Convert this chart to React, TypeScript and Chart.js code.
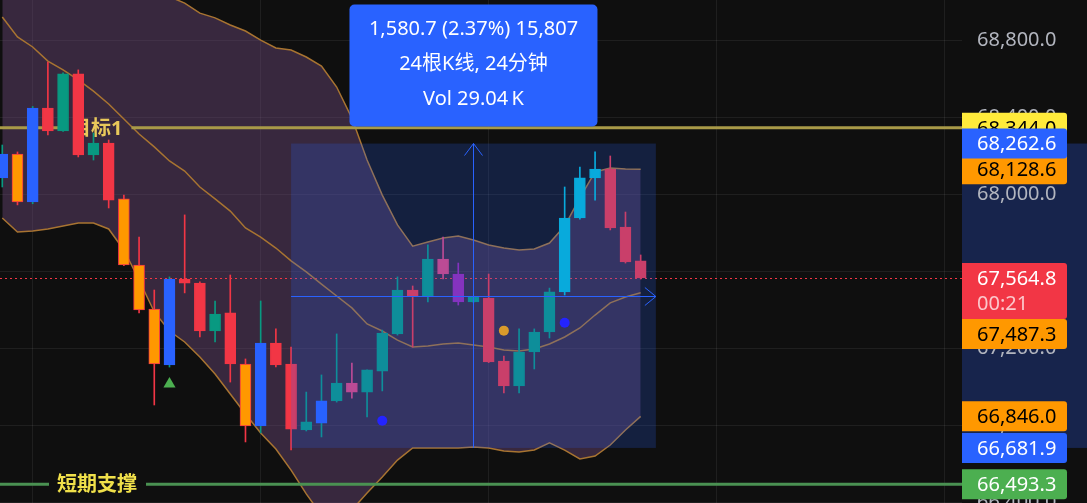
import { useEffect, useRef } from 'react';
import { Chart, registerables } from 'chart.js';

Chart.register(...registerables);

// ---- Candles (one per minute) ----
const opens = [68084, 68208, 67959, 68447, 68328, 68624, 68203, 68265, 67975, 67632, 67403, 67113, 67559, 67538, 67289, 67383, 67118, 66796, 67227, 67118, 66775, 66811, 66926, 67019, 66972, 67081, 67274, 67502, 67471, 67663, 67585, 67440, 67460, 67133, 67004, 67180, 67284, 67492, 67876, 68084, 68130, 67829, 67653];
const closes = [68208, 67959, 68447, 68328, 68624, 68203, 68265, 67969, 67632, 67398, 67118, 67559, 67538, 67289, 67377, 67118, 66796, 67227, 67113, 66780, 66817, 66926, 67019, 66972, 67087, 67279, 67502, 67471, 67663, 67585, 67440, 67466, 67128, 67004, 67180, 67284, 67492, 67876, 68084, 68130, 67824, 67648, 67564.8];
const highs = [68255, 68219, 68455, 68686, 68630, 68645, 68317, 68281, 67995, 67777, 67502, 67570, 67892, 67544, 67445, 67580, 67144, 67445, 67300, 67206, 66972, 67061, 67274, 67123, 67087, 67294, 67570, 67523, 67736, 67777, 67642, 67470, 67585, 67159, 67300, 67300, 67512, 68037, 68141, 68219, 68198, 67907, 67684];
const lows = [68037, 67944, 67950, 68307, 68325, 68193, 68177, 67928, 67628, 67383, 66905, 67102, 67487, 67258, 67232, 67024, 66713, 66760, 67102, 66671, 66770, 66739, 66920, 66941, 66843, 66978, 67268, 67206, 67440, 67559, 67424, 67436, 67125, 66967, 66967, 67092, 67253, 67476, 67870, 67969, 67814, 67642, 67559];
const candleKinds = ['blue', 'orange', 'blue', 'red', 'green', 'red', 'green', 'red', 'orange', 'orange', 'orange', 'blue', 'red', 'red', 'green', 'red', 'orange', 'blue', 'red', 'red', 'green', 'blue', 'green', 'pink', 'green', 'green', 'green', 'red', 'green', 'pink', 'purple', 'green', 'red', 'red', 'green', 'green', 'green', 'cyan', 'cyan', 'cyan', 'red', 'red', 'red'];

// ---- Bollinger bands ----
const bbUpper = [69964, 69828, 69719, 69564, 69455, 69335, 69221, 69117, 69075, 69065, 69050, 69025, 68992, 68940, 68915, 68878, 68847, 68800, 68759, 68748, 68712, 68665, 68556, 68395, 68177, 67995, 67840, 67730, 67751, 67772, 67782, 67762, 67736, 67720, 67710, 67715, 67746, 67834, 67980, 68115, 68136, 68130, 68128.6];
const bbMiddle = [68920, 68816, 68764, 68691, 68645, 68593, 68535, 68468, 68390, 68312, 68245, 68172, 68120, 68037, 67975, 67912, 67824, 67777, 67720, 67653, 67596, 67533, 67471, 67409, 67326, 67289, 67242, 67206, 67211, 67222, 67227, 67216, 67206, 67190, 67185, 67196, 67222, 67258, 67305, 67372, 67435, 67466, 67487.3];
const bbLower = [67876, 67803, 67808, 67819, 67834, 67850, 67850, 67819, 67710, 67554, 67388, 67289, 67232, 67154, 67066, 66962, 66858, 66760, 66676, 66567, 66443, 66334, 66282, 66360, 66448, 66531, 66619, 66682, 66682, 66682, 66682, 66687, 66682, 66666, 66661, 66671, 66708, 66671, 66625, 66640, 66697, 66775, 66846];

// ---- Signal markers ----
const triangleIndex = [11];
const trianglePrice = [67014];
const blueDotIndex = [25, 37];
const blueDotPrice = [66823, 67332];
const orangeDotIndex = [33];
const orangeDotPrice = [67291];

// ---- Levels, axis ----
const targetLevel = 68344.0;
const targetLabel = '目标1';
const supportLevel = 66493.3;
const supportLabel = '短期支撑';
const lastPrice = 67564.8;
const countdown = '00:21';
const priceTicks = [66400, 66800, 67200, 67600, 68000, 68400, 68800];
const timeGridIndex = [2, 17, 32, 47, 62];

// ---- Price range measurement ----
const rangeStartIndex = 19;
const rangeEndIndex = 43;
const rangeTop = 68262.6;
const rangeBottom = 66681.9;
const rangeVolumeK = '29.04';

const BODY: Record<string, string> = {
  blue: '#2962ff', orange: '#ff9800', red: '#f23645', green: '#089981',
  cyan: '#00bcd4', pink: '#e0457b', purple: '#9c27b0',
};
const FONT = '"Noto Sans", "Noto Sans CJK SC", sans-serif';
const fmt = (v: number) => v.toLocaleString('en-US', { minimumFractionDigits: 1, maximumFractionDigits: 1 });

function drawLevel(chart: any, value: number, color: string, text: string, textColor: string, textLeft: number) {
  const { ctx, chartArea } = chart;
  const yy = chart.scales.y.getPixelForValue(value);
  ctx.save();
  ctx.font = `bold 20px ${FONT}`;
  const tw = ctx.measureText(text).width;
  const tx = chartArea.left + textLeft;
  ctx.strokeStyle = color;
  ctx.lineWidth = 3;
  ctx.beginPath();
  ctx.moveTo(chartArea.left, yy);
  ctx.lineTo(tx - 8, yy);
  ctx.moveTo(tx + tw + 9, yy);
  ctx.lineTo(chartArea.right, yy);
  ctx.stroke();
  ctx.fillStyle = textColor;
  ctx.textAlign = 'left';
  ctx.textBaseline = 'middle';
  ctx.fillText(text, tx, yy + 1);
  ctx.restore();
}

function drawLevels(chart: any) {
  drawLevel(chart, targetLevel, '#a99a48', targetLabel, '#e8c85a', 71);
  drawLevel(chart, supportLevel, '#4a9152', supportLabel, '#f0e04a', 57);
  const { ctx, chartArea } = chart;
  const yy = Math.round(chart.scales.y.getPixelForValue(lastPrice)) + 0.5;
  ctx.save();
  ctx.strokeStyle = '#f23645';
  ctx.lineWidth = 1;
  ctx.setLineDash([2, 3]);
  ctx.beginPath();
  ctx.moveTo(chartArea.left, yy);
  ctx.lineTo(chartArea.right, yy);
  ctx.stroke();
  ctx.restore();
}

function drawRange(chart: any) {
  const { ctx } = chart;
  const xs = chart.scales.x, ys = chart.scales.y;
  const x0 = xs.getPixelForValue(rangeStartIndex), x1 = xs.getPixelForValue(rangeEndIndex);
  const y0 = ys.getPixelForValue(rangeTop), y1 = ys.getPixelForValue(rangeBottom);
  ctx.save();
  ctx.fillStyle = 'rgba(41,98,255,0.2)';
  ctx.fillRect(x0, y0, x1 - x0, y1 - y0);
  const cx = Math.round((x0 + x1) / 2) + 0.5;
  const cy = Math.round((y0 + y1) / 2) + 0.5;
  ctx.strokeStyle = '#2962ff';
  ctx.lineWidth = 1;
  ctx.beginPath();
  ctx.moveTo(cx, y1);
  ctx.lineTo(cx, y0);
  ctx.moveTo(cx - 9, y0 + 12);
  ctx.lineTo(cx, y0);
  ctx.lineTo(cx + 9, y0 + 12);
  ctx.moveTo(x0, cy);
  ctx.lineTo(x1, cy);
  ctx.moveTo(x1 - 11, cy - 9);
  ctx.lineTo(x1, cy);
  ctx.lineTo(x1 - 11, cy + 9);
  ctx.stroke();
  ctx.restore();
}

function tag(ctx: any, left: number, centerY: number, h: number, bg: string, fg: string, text: string, sub?: string) {
  const top = centerY - 15;
  ctx.fillStyle = bg;
  ctx.beginPath();
  ctx.roundRect(left, top, 105, h, [0, 3, 3, 0]);
  ctx.fill();
  ctx.font = `20px ${FONT}`;
  ctx.textAlign = 'left';
  ctx.textBaseline = 'middle';
  ctx.fillStyle = fg;
  ctx.fillText(text, left + 15, centerY + 1);
  if (sub) {
    ctx.fillStyle = 'rgba(255,255,255,0.72)';
    ctx.fillText(sub, left + 15, centerY + 26);
  }
}

function drawAxisTags(chart: any) {
  const { ctx, chartArea } = chart;
  const ys = chart.scales.y;
  const left = chartArea.right;
  ctx.save();
  tag(ctx, left, ys.getPixelForValue(targetLevel), 30, '#ffeb3b', '#000', fmt(targetLevel));
  tag(ctx, left, ys.getPixelForValue(supportLevel), 30, '#4caf50', '#fff', fmt(supportLevel));
  const last = bbMiddle.length - 1;
  const series = [
    { v: bbUpper[last], bg: '#ff9800', fg: '#000', h: 30 },
    { v: bbMiddle[last], bg: '#ff9800', fg: '#000', h: 30 },
    { v: bbLower[last], bg: '#ff9800', fg: '#000', h: 30 },
    { v: lastPrice, bg: '#f23645', fg: '#fff', h: 56, sub: countdown, main: true },
  ].map((s) => ({ ...s, c: ys.getPixelForValue(s.v) }));
  series.sort((a, b) => (a.main ? -1 : 0) - (b.main ? -1 : 0));
  const placed: { top: number; bottom: number }[] = [];
  for (const s of series) {
    let top = s.c - 15;
    for (const p of placed) {
      if (top < p.bottom && top + s.h > p.top) top = p.bottom;
    }
    s.c = top + 15;
    placed.push({ top, bottom: top + s.h });
  }
  for (const s of series.filter((q) => !q.main)) tag(ctx, left, s.c, s.h, s.bg, s.fg, fmt(s.v));
  for (const s of series.filter((q) => q.main)) tag(ctx, left, s.c, s.h, s.bg, s.fg, fmt(s.v), s.sub);
  tag(ctx, left, ys.getPixelForValue(rangeTop), 30, '#2962ff', '#fff', fmt(rangeTop));
  tag(ctx, left, ys.getPixelForValue(rangeBottom), 30, '#2962ff', '#fff', fmt(rangeBottom));
  ctx.restore();
}

function drawMeasureBox(chart: any) {
  const { ctx } = chart;
  const xs = chart.scales.x, ys = chart.scales.y;
  const x0 = xs.getPixelForValue(rangeStartIndex), x1 = xs.getPixelForValue(rangeEndIndex);
  const y0 = ys.getPixelForValue(rangeTop);
  const cx = (x0 + x1) / 2;
  const w = 248, h = 122;
  const bx = cx - w / 2, by = y0 - 17 - h;
  const diff = rangeTop - rangeBottom;
  const nBars = rangeEndIndex - rangeStartIndex;
  const lines = [
    `${fmt(diff)} (${((diff / rangeBottom) * 100).toFixed(2)}%) ${Math.round(diff * 10).toLocaleString('en-US')}`,
    `${nBars}根K线, ${nBars}分钟`,
    `Vol ${rangeVolumeK}\u2009K`,
  ];
  ctx.save();
  ctx.fillStyle = '#2962ff';
  ctx.beginPath();
  ctx.roundRect(bx, by, w, h, 5);
  ctx.fill();
  ctx.fillStyle = '#ffffff';
  ctx.font = `20px ${FONT}`;
  ctx.textAlign = 'center';
  ctx.textBaseline = 'middle';
  lines.forEach((t, i) => ctx.fillText(t, cx, by + 25 + i * 35));
  ctx.restore();
}

const tvPlugin = {
  id: 'tvPlugin',
  beforeDraw(chart: any) {
    const { ctx, chartArea, width, height } = chart;
    const ys = chart.scales.y;
    ctx.save();
    ctx.fillStyle = '#0f0f0f';
    ctx.fillRect(0, 0, width, height);
    const t = ys.getPixelForValue(rangeTop), b = ys.getPixelForValue(rangeBottom);
    ctx.fillStyle = '#17244c';
    ctx.fillRect(chartArea.right, t, width - chartArea.right, b - t);
    ctx.restore();
  },
  afterDatasetDraw(chart: any, args: any) {
    const label = chart.data.datasets[args.index].label;
    if (label === 'BB Lower') drawLevels(chart);
    if (label === 'Body') drawRange(chart);
  },
  afterDraw(chart: any) {
    drawAxisTags(chart);
    drawMeasureBox(chart);
  },
};

export default function App() {
  const ref = useRef<HTMLCanvasElement>(null);
  useEffect(() => {
    document.body.style.margin = '0';
    document.body.style.background = '#0f0f0f';
    const canvas = ref.current;
    if (!canvas) return;
    const idx = opens.map((_, i) => i);
    const bodyColors = candleKinds.map((k) => BODY[k]);
    const borderColors = candleKinds.map((k) => (k === 'orange' ? '#f23645' : BODY[k]));
    const wickColors = candleKinds.map((k) => (k === 'blue' ? '#089981' : k === 'orange' ? '#f23645' : BODY[k]));
    const bandFill = 'rgba(118,78,133,0.4)';
    const bandLine = '#a87431';

    const chart = new Chart(canvas, {
      type: 'bar',
      data: {
        datasets: [
          { type: 'line', label: 'BB Upper', data: idx.map((i) => ({ x: i, y: bbUpper[i] })), borderColor: bandLine, borderWidth: 1.5, pointRadius: 0, fill: '+1', backgroundColor: bandFill, order: 10 } as any,
          { type: 'line', label: 'BB Middle', data: idx.map((i) => ({ x: i, y: bbMiddle[i] })), borderColor: bandLine, borderWidth: 1.5, pointRadius: 0, fill: '+1', backgroundColor: bandFill, order: 9 } as any,
          { type: 'line', label: 'BB Lower', data: idx.map((i) => ({ x: i, y: bbLower[i] })), borderColor: bandLine, borderWidth: 1.5, pointRadius: 0, fill: false, order: 8 } as any,
          { type: 'bar', label: 'Wick', data: idx.map((i) => ({ x: i, y: [lows[i], highs[i]] })), backgroundColor: wickColors, barThickness: 1, grouped: false, order: 3 } as any,
          { type: 'bar', label: 'Body', data: idx.map((i) => ({ x: i, y: [opens[i], closes[i]] })), backgroundColor: bodyColors, borderColor: borderColors, borderWidth: 1, borderSkipped: false, barThickness: 11, grouped: false, order: 2 } as any,
          { type: 'line', label: 'Signal', data: triangleIndex.map((x, i) => ({ x, y: trianglePrice[i] })), showLine: false, pointStyle: 'triangle', pointRadius: 7, pointBackgroundColor: '#4caf50', pointBorderWidth: 0, order: 0 } as any,
          { type: 'line', label: 'Blue dots', data: blueDotIndex.map((x, i) => ({ x, y: blueDotPrice[i] })), showLine: false, pointStyle: 'circle', pointRadius: 5, pointBackgroundColor: '#2424ff', pointBorderWidth: 0, order: 0 } as any,
          { type: 'line', label: 'Orange dots', data: orangeDotIndex.map((x, i) => ({ x, y: orangeDotPrice[i] })), showLine: false, pointStyle: 'circle', pointRadius: 5, pointBackgroundColor: '#d99a2b', pointBorderWidth: 0, order: 0 } as any,
        ],
      },
      options: {
        responsive: false,
        animation: false,
        devicePixelRatio: 1,
        events: [],
        layout: { padding: 0, autoPadding: false },
        plugins: { legend: { display: false }, tooltip: { enabled: false } },
        scales: {
          x: {
            type: 'linear',
            min: -0.15,
            max: 63.14,
            offset: false,
            grid: { color: 'rgba(255,255,255,0.07)', drawTicks: false, offset: false },
            border: { display: false },
            ticks: { display: false },
            afterBuildTicks: (s: any) => { s.ticks = timeGridIndex.map((v) => ({ value: v })); },
            afterFit: (s: any) => { s.height = 0; s.paddingLeft = 0; s.paddingRight = 0; },
          },
          y: {
            position: 'right',
            min: 66396,
            max: 69008,
            grid: { color: 'rgba(255,255,255,0.07)', drawTicks: false },
            border: { display: false },
            ticks: {
              color: '#b2b5be',
              font: { family: FONT, size: 20 },
              padding: 15,
              callback: (v: any) => fmt(Number(v)),
            },
            afterBuildTicks: (s: any) => { s.ticks = priceTicks.map((v) => ({ value: v })); },
            afterFit: (s: any) => { s.width = 125; s.paddingTop = 0; s.paddingBottom = 0; },
          },
        },
      } as any,
      plugins: [tvPlugin],
    });
    return () => chart.destroy();
  }, []);

  return (
    <div style={{ width: 1087, height: 503, overflow: 'hidden', background: '#0f0f0f' }}>
      <canvas ref={ref} width={1087} height={503} style={{ display: 'block', width: 1087, height: 503 }} />
    </div>
  );
}
